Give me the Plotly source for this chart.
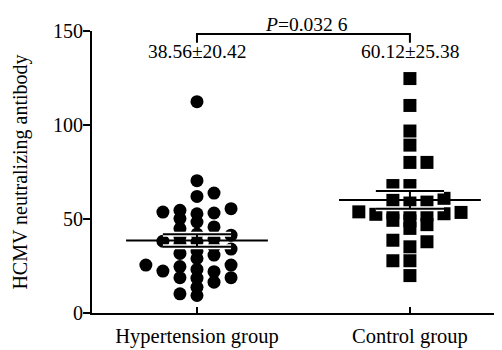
import plotly.graph_objects as go
import numpy as np

groups = ["Hypertension group", "Control group"]
hypertension = [112.4, 70.4, 63.8, 62.0, 55.5, 54.6, 53.7, 53.2, 52.8, 50.2, 48.4,
                45.8, 44.9, 42.0, 41.4, 40.5, 39.6, 38.2, 37.9, 36.5, 35.2, 34.0,
                33.0, 31.7, 30.8, 29.0, 25.5, 25.5, 24.7, 23.2, 22.3, 22.0, 18.8,
                18.8, 18.5, 16.4, 13.7, 10.2, 9.3]
control = [124.7, 110.4, 96.8, 89.3, 80.1, 80.1, 67.8, 67.8, 61.0, 60.0, 59.0,
           58.5, 53.8, 53.5, 53.3, 53.0, 52.8, 52.5, 52.2, 49.3, 49.0, 47.0,
           45.0, 38.7, 37.9, 35.2, 27.8, 27.8, 19.9]
means = [38.56, 60.12]
sds = [20.42, 25.38]
stat_labels = ["38.56±20.42", "60.12±25.38"]
p_label = "<i>P</i>=0.032 6"

FONT = "Liberation Serif, Times New Roman, serif"


def swarm(vals, center, step=0.08, thr=4.0):
    placed = []
    xs = [0.0] * len(vals)
    order = sorted(range(len(vals)), key=lambda i: vals[i])
    for i in order:
        v = vals[i]
        k = 0
        chosen = None
        while chosen is None:
            if k == 0:
                cands = [0]
            else:
                left = sum(1 for c, _ in placed if c < 0)
                right = sum(1 for c, _ in placed if c > 0)
                cands = [-k, k] if left <= right else [k, -k]
            for col in cands:
                if all(not (c == col and abs(pv - v) < thr) for c, pv in placed):
                    chosen = col
                    break
            k += 1
        placed.append((chosen, v))
        xs[i] = center + chosen * step
    return xs


fig = go.Figure()
series = [hypertension, control]
symbols = ["circle", "square"]
for gi, vals in enumerate(series):
    xs = swarm(vals, gi + 1)
    fig.add_trace(go.Scatter(x=xs, y=vals, mode="markers",
                             marker=dict(symbol=symbols[gi], size=13, color="black",
                                         line=dict(width=0)),
                             showlegend=False, cliponaxis=False))

# mean and SEM lines
for gi, vals in enumerate(series):
    c = gi + 1
    m = means[gi]
    sem = sds[gi] / np.sqrt(len(vals))
    for yv, hw in [(m + sem, 0.16), (m - sem, 0.16)]:
        fig.add_trace(go.Scatter(x=[c - hw, c + hw], y=[yv, yv], mode="lines",
                                 line=dict(color="white", width=5), showlegend=False,
                                 hoverinfo="skip"))
        fig.add_trace(go.Scatter(x=[c - hw, c + hw], y=[yv, yv], mode="lines",
                                 line=dict(color="black", width=2), showlegend=False,
                                 hoverinfo="skip"))
    fig.add_trace(go.Scatter(x=[c, c], y=[m - sem, m + sem], mode="lines",
                             line=dict(color="black", width=2), showlegend=False,
                             hoverinfo="skip"))
    fig.add_trace(go.Scatter(x=[c - 0.333, c + 0.333], y=[m, m], mode="lines",
                             line=dict(color="black", width=2), showlegend=False,
                             hoverinfo="skip"))

# significance bracket
fig.add_shape(type="path", path="M 1,143.7 L 1,148.4 L 2,148.4 L 2,143.7",
              xref="x", yref="y", line=dict(color="black", width=2))

fig.add_annotation(x=1.516, y=1.0246, xref="x", yref="paper", text=p_label,
                   showarrow=False, font=dict(family=FONT, size=19.5, color="black"),
                   yanchor="middle")
for gi, lab in enumerate(stat_labels):
    fig.add_annotation(x=gi + 1, y=139, xref="x", yref="y", text=lab,
                       showarrow=False, font=dict(family=FONT, size=19.5, color="black"),
                       yanchor="middle")

fig.update_layout(
    width=494, height=342,
    margin=dict(l=84, r=2, t=23, b=35),
    paper_bgcolor="white", plot_bgcolor="white",
    font=dict(family=FONT, size=20, color="black"),
    xaxis=dict(range=[0.507, 2.423], tickvals=[1, 2], ticktext=groups,
               showline=True, linecolor="black", linewidth=2, ticks="inside",
               ticklen=6, tickwidth=2, tickcolor="black", showgrid=False,
               zeroline=False, tickfont=dict(size=20.5), ticklabelstandoff=3),
    yaxis=dict(range=[0, 150], tickvals=[0, 50, 100, 150], showline=True,
               linecolor="black", linewidth=2, ticks="outside", ticklen=7,
               tickwidth=2, tickcolor="black", showgrid=False, zeroline=False,
               ticklabelstandoff=-4,
               title=dict(text="HCMV neutralizing antibody", standoff=20,
                          font=dict(size=20)),
               tickfont=dict(size=20)),
)

fig.write_html("out.html")
